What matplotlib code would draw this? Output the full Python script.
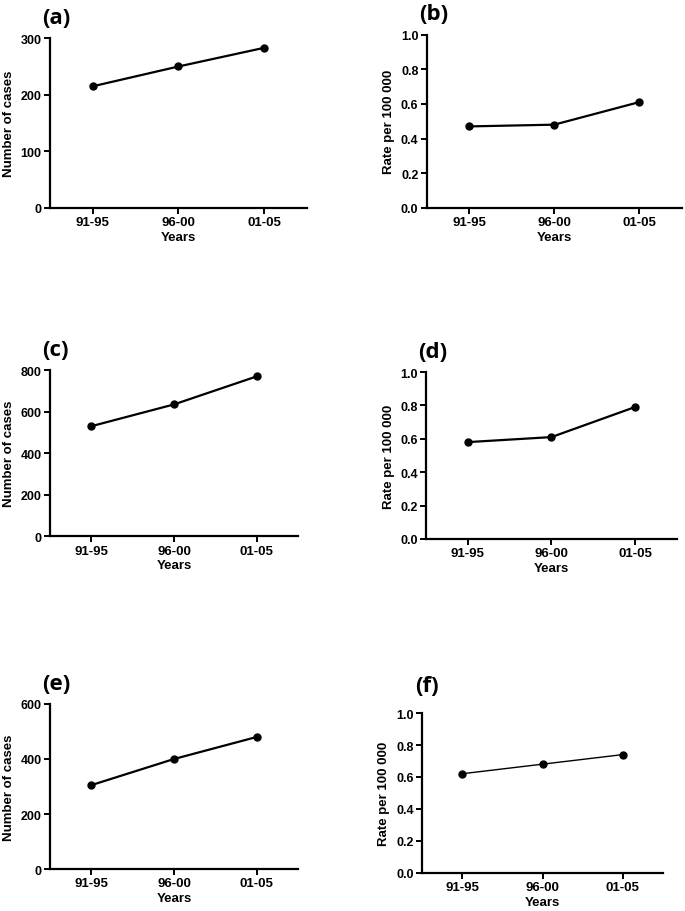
import matplotlib
matplotlib.use("Agg")
import matplotlib.pyplot as plt

# data
periods = ["91-95", "96-00", "01-05"]
cases_a = [215, 250, 283]
rate_b = [0.47, 0.48, 0.61]
cases_c = [530, 635, 770]
rate_d = [0.58, 0.61, 0.79]
cases_e = [305, 400, 480]
rate_f = [0.62, 0.68, 0.74]

plt.rcParams.update({
    "font.family": ["Liberation Sans", "DejaVu Sans"],
    "font.weight": "bold",
    "axes.linewidth": 1.6,
    "xtick.major.width": 1.4,
    "ytick.major.width": 1.4,
    "xtick.major.size": 4,
    "ytick.major.size": 4,
})

fig = plt.figure(figsize=(6.85, 9.12), dpi=100)

panels = [
    ("(a)", cases_a, "Number of cases", [0, 100, 200, 300], "{:.0f}", [0.073, 0.771, 0.375, 0.186], 1.6, 1.06),
    ("(b)", rate_b, "Rate per 100 000", [0, 0.2, 0.4, 0.6, 0.8, 1.0], "{:.1f}", [0.623, 0.771, 0.372, 0.190], 1.6, 1.06),
    ("(c)", cases_c, "Number of cases", [0, 200, 400, 600, 800], "{:.0f}", [0.073, 0.411, 0.362, 0.182], 1.6, 1.06),
    ("(d)", rate_d, "Rate per 100 000", [0, 0.2, 0.4, 0.6, 0.8, 1.0], "{:.1f}", [0.622, 0.408, 0.366, 0.183], 1.6, 1.06),
    ("(e)", cases_e, "Number of cases", [0, 200, 400, 600], "{:.0f}", [0.073, 0.046, 0.362, 0.181], 1.6, 1.06),
    ("(f)", rate_f, "Rate per 100 000", [0, 0.2, 0.4, 0.6, 0.8, 1.0], "{:.1f}", [0.616, 0.042, 0.352, 0.175], 1.0, 1.11),
]

x = [1, 2, 3]
for tag, vals, ylab, yticks, fmt, rect, lw, tag_y in panels:
    ax = fig.add_axes(rect)
    ax.plot(x, vals, color="black", lw=lw, marker="o", markersize=5)
    ax.set_xlim(0.5, 3.5)
    ax.set_ylim(yticks[0], yticks[-1])
    ax.set_yticks(yticks)
    ax.set_yticklabels([fmt.format(v) for v in yticks], fontsize=9, fontweight="bold")
    ax.set_xticks(x)
    ax.set_xticklabels(periods, fontsize=9.5, fontweight="bold")
    ax.spines["top"].set_visible(False)
    ax.spines["right"].set_visible(False)
    ax.tick_params(pad=2)
    ax.set_xlabel("Years", fontsize=9.5, fontweight="bold", labelpad=2)
    ax.set_ylabel(ylab, fontsize=9.5, fontweight="bold", labelpad=4)
    ax.text(-0.03, tag_y, tag, transform=ax.transAxes, fontsize=16,
            fontweight="bold", family="Open Sans", va="bottom", ha="left")

fig.savefig("out.png", dpi=100)
